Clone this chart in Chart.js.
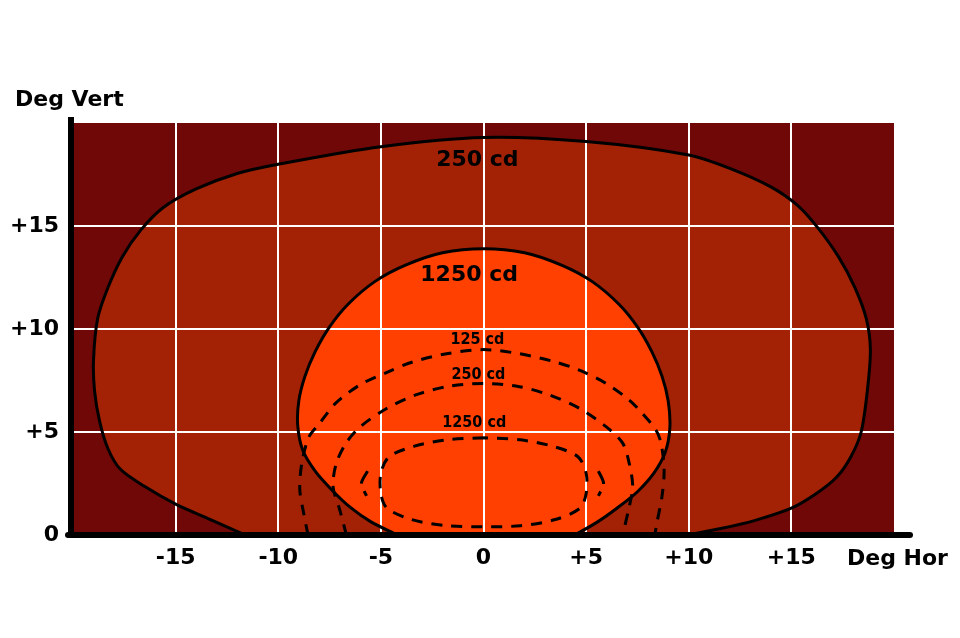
<!DOCTYPE html>
<html>
<head>
<meta charset="utf-8">
<script src="https://cdn.jsdelivr.net/npm/chart.js"></script>
<style>
  html, body { margin: 0; padding: 0; background: #fff; }
  #wrap { width: 960px; height: 638px; position: relative; }
</style>
</head>
<body>
<div id="wrap"><canvas id="beamChart"></canvas></div>
<script>
// axis ticks
const xTickValues = [-15, -10, -5, 0, 5, 10, 15];
const xTickLabels = ['-15', '-10', '-5', '0', '+5', '+10', '+15'];
const yTickValues = [0, 5, 10, 15];
const yTickLabels = ['0', '+5', '+10', '+15'];

// 250 cd outer contour (solid)
const outer250X = [-11.6, -13.3, -15.0, -16.5, -17.7, -18.3, -18.7, -18.95, -19.0, -18.8, -18.3, -17.6, -16.7, -15.6, -14.0, -12.0, -10.0, -5.0, 0, 5.0, 10.0, 12.0, 14.0, 15.3, 16.3, 17.3, 18.1, 18.65, 18.85, 18.7, 18.4, 17.9, 17.2, 16.2, 15.0, 13.2, 11.5, 9.9];
const outer250Y = [0, 0.75, 1.5, 2.35, 3.2, 4.2, 5.5, 7.0, 8.5, 10.5, 12.0, 13.5, 14.8, 15.9, 16.8, 17.55, 18.0, 18.85, 19.3, 19.1, 18.45, 17.8, 16.9, 16.0, 14.9, 13.5, 12.0, 10.5, 9.0, 7.0, 5.0, 3.8, 2.8, 2.0, 1.3, 0.7, 0.3, 0];

// 1250 cd inner contour (solid)
const inner1250X = [-4.2, -5.5, -6.5, -7.4, -8.2, -8.8, -9.05, -9.0, -8.7, -8.2, -7.5, -6.6, -5.3, -3.8, -2.0, 0, 2.0, 3.8, 5.3, 6.6, 7.5, 8.2, 8.7, 9.0, 9.08, 8.85, 8.3, 7.5, 6.5, 5.5, 4.45];
const inner1250Y = [0, 0.65, 1.35, 2.2, 3.1, 4.1, 5.3, 6.5, 7.7, 8.9, 10.1, 11.2, 12.3, 13.1, 13.7, 13.9, 13.7, 13.1, 12.3, 11.2, 10.1, 8.9, 7.7, 6.5, 5.2, 4.0, 3.0, 2.1, 1.3, 0.6, 0];

// dashed contours
const dash125X = [-8.55, -8.75, -8.95, -8.85, -8.5, -8.0, -7.2, -6.0, -4.7, -3.45, -1.8, 0, 1.75, 3.5, 4.67, 5.97, 7.1, 7.74, 8.4, 8.65, 8.8, 8.7, 8.45, 8.35];
const dash125Y = [0, 1.0, 2.2, 3.5, 4.77, 5.4, 6.4, 7.3, 7.9, 8.4, 8.8, 9.0, 8.8, 8.4, 8.0, 7.36, 6.55, 5.9, 5.1, 4.46, 3.15, 1.9, 0.6, 0];

const dash250X = [-6.68, -7.0, -7.33, -7.17, -6.7, -6.0, -4.7, -3.3, -1.8, 0, 1.75, 3.2, 4.67, 5.97, 6.78, 7.1, 7.27, 7.1, 6.78];
const dash250Y = [0, 1.21, 2.35, 3.48, 4.46, 5.26, 6.15, 6.8, 7.2, 7.36, 7.2, 6.8, 6.15, 5.26, 4.46, 3.48, 2.35, 1.37, 0];

const dash1250X = [0, -1.8, -3.4, -4.6, -5.0, -5.0, -4.7, -3.5, -1.8, 0, 1.8, 3.5, 4.7, 5.0, 5.0, 4.6, 3.4, 1.8, 0];
const dash1250Y = [4.72, 4.62, 4.3, 3.8, 3.0, 2.0, 1.3, 0.75, 0.45, 0.4, 0.45, 0.75, 1.3, 2.0, 3.0, 3.8, 4.3, 4.62, 4.72];

const arcLeftX = [-5.65, -5.95, -5.7];
const arcLeftY = [3.1, 2.5, 1.9];
const arcRightX = [5.6, 5.85, 5.6];
const arcRightY = [3.1, 2.5, 1.9];

// contour labels
const bigLabels = ['250 cd', '1250 cd'];
const bigLabelX = [-0.3, -0.7];
const bigLabelY = [18.2, 12.6];
const smallLabels = ['125 cd', '250 cd', '1250 cd'];
const smallLabelX = [-0.3, -0.25, -0.45];
const smallLabelY = [9.47, 7.77, 5.44];

const toPoints = (xs, ys) => xs.map((x, i) => ({ x: x, y: ys[i] }));

const DARK = '#700808';
const MID = '#A32205';
const BRIGHT = '#FF4000';

const overlay = {
  id: 'overlay',
  afterDatasetsDraw(chart) {
    const { ctx } = chart;
    const xs = chart.scales.x, ys = chart.scales.y;
    ctx.save();
    ctx.fillStyle = '#000';
    ctx.textAlign = 'center';
    ctx.textBaseline = 'middle';
    ctx.font = 'bold 22px "DejaVu Sans"';
    bigLabels.forEach((t, i) => {
      ctx.fillText(t, xs.getPixelForValue(bigLabelX[i]), ys.getPixelForValue(bigLabelY[i]));
    });
    ctx.font = 'bold 16px "DejaVu Sans Condensed", "DejaVu Sans"';
    smallLabels.forEach((t, i) => {
      ctx.fillText(t, xs.getPixelForValue(smallLabelX[i]), ys.getPixelForValue(smallLabelY[i]));
    });
    ctx.restore();
  },
  afterDraw(chart) {
    const { ctx } = chart;
    const xs = chart.scales.x, ys = chart.scales.y;
    const left = xs.getPixelForValue(-20) - 2;
    const right = xs.getPixelForValue(20);
    const base = ys.getPixelForValue(0);
    const top = ys.getPixelForValue(20);
    ctx.save();
    ctx.strokeStyle = '#000';
    ctx.lineWidth = 6;
    ctx.lineCap = 'butt';
    ctx.beginPath();
    ctx.moveTo(left, top - 6);
    ctx.lineTo(left, base + 3);
    ctx.stroke();
    ctx.lineCap = 'round';
    ctx.beginPath();
    ctx.moveTo(left - 3, base);
    ctx.lineTo(right + 16, base);
    ctx.stroke();
    ctx.fillStyle = '#000';
    ctx.font = 'bold 22px "DejaVu Sans"';
    ctx.textAlign = 'left';
    ctx.textBaseline = 'alphabetic';
    ctx.fillText('Deg Vert', 15, 106);
    ctx.fillText('Deg Hor', 847, 565);
    ctx.restore();
  }
};

const lineBase = { showLine: true, pointRadius: 0, pointHoverRadius: 0, tension: 0.3 };

new Chart(document.getElementById('beamChart'), {
  type: 'scatter',
  data: {
    datasets: [
      Object.assign({}, lineBase, {
        label: 'background', order: 5, tension: 0,
        data: [{ x: -20, y: 20 }, { x: 20, y: 20 }],
        borderWidth: 0, borderColor: 'rgba(0,0,0,0)', backgroundColor: DARK, fill: 'origin'
      }),
      Object.assign({}, lineBase, {
        label: '250 cd', order: 4,
        data: toPoints(outer250X, outer250Y),
        borderColor: '#000', borderWidth: 3, backgroundColor: MID, fill: 'shape'
      }),
      Object.assign({}, lineBase, {
        label: '1250 cd', order: 3,
        data: toPoints(inner1250X, inner1250Y),
        borderColor: '#000', borderWidth: 3, backgroundColor: BRIGHT, fill: 'shape'
      }),
      Object.assign({}, lineBase, {
        label: '125 cd (dashed)', order: 1,
        data: toPoints(dash125X, dash125Y),
        borderColor: '#000', borderWidth: 3, borderDash: [11, 9], fill: false
      }),
      Object.assign({}, lineBase, {
        label: '250 cd (dashed)', order: 1,
        data: toPoints(dash250X, dash250Y),
        borderColor: '#000', borderWidth: 3, borderDash: [11, 9], fill: false
      }),
      Object.assign({}, lineBase, {
        label: '1250 cd (dashed)', order: 1,
        data: toPoints(dash1250X, dash1250Y),
        borderColor: '#000', borderWidth: 3, borderDash: [11, 9], fill: false
      }),
      Object.assign({}, lineBase, {
        label: 'arc left', order: 1,
        data: toPoints(arcLeftX, arcLeftY),
        borderColor: '#000', borderWidth: 3, borderDash: [14, 8], fill: false
      }),
      Object.assign({}, lineBase, {
        label: 'arc right', order: 1,
        data: toPoints(arcRightX, arcRightY),
        borderColor: '#000', borderWidth: 3, borderDash: [14, 8], fill: false
      })
    ]
  },
  options: {
    responsive: true,
    maintainAspectRatio: false,
    animation: false,
    events: [],
    layout: { padding: { top: 123, right: 66, bottom: 53, left: 0 } },
    plugins: {
      legend: { display: false },
      tooltip: { enabled: false },
      filler: { drawTime: 'beforeDraw' }
    },
    scales: {
      x: {
        type: 'linear', min: -20, max: 20,
        afterFit: (s) => { s.height = 50; },
        border: { display: false },
        grid: {
          color: (c) => (c.tick && Math.abs(c.tick.value) === 20) ? 'rgba(0,0,0,0)' : '#ffffff',
          lineWidth: 2, drawTicks: false
        },
        ticks: {
          stepSize: 5, autoSkip: false, maxRotation: 0, padding: 10,
          color: '#000', font: { family: 'DejaVu Sans', size: 22, weight: 'bold' },
          callback: (v) => { const i = xTickValues.indexOf(v); return i < 0 ? null : xTickLabels[i]; }
        }
      },
      y: {
        type: 'linear', min: 0, max: 20,
        afterFit: (s) => { s.width = 73; },
        border: { display: false },
        grid: {
          color: (c) => (c.tick && (c.tick.value === 0 || c.tick.value === 20)) ? 'rgba(0,0,0,0)' : '#ffffff',
          lineWidth: 2, drawTicks: false
        },
        ticks: {
          stepSize: 5, autoSkip: false, padding: 14,
          color: '#000', font: { family: 'DejaVu Sans', size: 22, weight: 'bold' },
          callback: (v) => { const i = yTickValues.indexOf(v); return i < 0 ? null : yTickLabels[i]; }
        }
      }
    }
  },
  plugins: [overlay]
});
</script>
</body>
</html>
